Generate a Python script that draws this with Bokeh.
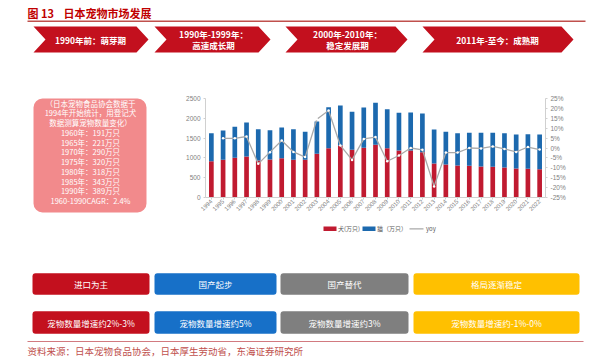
import math
from bokeh.plotting import figure
from bokeh.models import (Range1d, FactorRange, LinearAxis, FixedTicker, PrintfTickFormatter,
                          BoxAnnotation, ColumnDataSource)
from bokeh.layouts import column, row
from bokeh.embed import file_html
from bokeh.resources import INLINE
from bokeh.core.properties import value

CJK = "Noto Sans CJK SC"
NUM = "Liberation Sans"

# ---------------- data ----------------
years = ["1994", "1995", "1996", "1997", "1998", "1999", "2000", "2001", "2002", "2003",
         "2004", "2005", "2006", "2007", "2008", "2009", "2010", "2011", "2012", "2013",
         "2014", "2015", "2016", "2017", "2018", "2019", "2020", "2021", "2022"]
dogs = [917, 951, 1002, 1035, 934, 960, 993, 951, 951, 1103,
        1245, 1313, 1204, 1254, 1330, 1245, 1187, 1187, 1145, 860,
        833, 808, 800, 783, 775, 758, 732, 724, 715]
cats = [707, 741, 783, 859, 791, 740, 775, 774, 707, 816,
        1035, 1010, 960, 1018, 1061, 985, 951, 959, 976, 857,
        825, 816, 833, 850, 858, 866, 859, 876, 876]
yoy = [float("nan"), 4.9, 4.9, 5.8, -8.0, -2.1, 3.8, -2.0, -4.6, 14.5,
       18.9, 1.3, -6.0, 4.6, 5.5, -6.7, -3.8, 0.0, -0.9, -19.4,
       -2.3, -2.3, 0.0, -0.2, 0.8, -0.5, -2.0, 0.5, -0.8]
left_ticks = [0, 500, 1000, 1500, 2000, 2500]
right_ticks = [-25, -20, -15, -10, -5, 0, 5, 10, 15, 20, 25]
series_names = ["犬(万只)", "猫（万只）", "yoy"]

title_no = "图 13"
title_txt = "日本宠物市场发展"
stage_labels = [["1990年前：萌芽期"], ["1990年-1999年：", "高速成长期"],
                ["2000年-2010年：", "稳定发展期"], ["2011年-至今：成熟期"]]
note_lines = ["（日本宠物食品协会数据于", "1994年开始统计，用登记犬", "数据测算宠物数量变化）",
              "1960年：191万只", "1965年：221万只", "1970年：290万只", "1975年：320万只",
              "1980年：318万只", "1985年：343万只", "1990年：389万只", "1960-1990CAGR：2.4%"]
row1_labels = ["进口为主", "国产起步", "国产替代", "格局逐渐稳定"]
row2_labels = ["宠物数量增速约2%-3%", "宠物数量增速约5%", "宠物数量增速约3%", "宠物数量增速约-1%-0%"]
box_colors = ["#C3101E", "#1770C8", "#7F7F7F", "#FFC000"]
source_txt = "资料来源：日本宠物食品协会，日本厚生劳动省，东海证券研究所"

RED = "#C01A30"
BLUE = "#1C69AE"
GREY_LINE = "#A9A9A9"
CHEV = "#C3101E"


def canvas(w, h):
    f = figure(width=w, height=h, x_range=Range1d(0, w), y_range=Range1d(h, 0),
               x_axis_type=None, y_axis_type=None, toolbar_location=None,
               output_backend="svg", min_border=0, outline_line_color=None,
               frame_align=False)
    f.grid.visible = False
    return f


# ---------------- top: title + chevrons (page y 0..88) ----------------
top = canvas(600, 88)
top.text(x=[27], y=[12], text=[title_no], text_font=value(CJK), text_font_size="11px",
         text_font_style="bold", text_color="#C00000", text_baseline="middle", text_align="left")
top.text(x=[63], y=[12], text=[title_txt], text_font=value(CJK), text_font_size="11px",
         text_font_style="bold", text_color="#C00000", text_baseline="middle", text_align="left")
top.line(x=[27, 585], y=[20.7, 20.7], line_color="#C0504D", line_width=1.5)

chev_left = [33, 154, 285, 422]
chev_tip = [148, 270, 407, 573]
chev_cx = [90, 213, 347, 497]
d = 12
ct, cb, cm = 26, 52, 39
xs, ys = [], []
for L, R in zip(chev_left, chev_tip):
    xs.append([L, R - d, R, R - d, L, L + d])
    ys.append([ct, ct, cm, cb, cb, cm])
top.patches(xs, ys, fill_color=CHEV, line_color=None)
for cx, lines in zip(chev_cx, stage_labels):
    if len(lines) == 1:
        top.text(x=[cx], y=[cm], text=lines, text_font=value(CJK), text_font_size="8.5px",
                 text_font_style="bold", text_color="white", text_align="center", text_baseline="middle")
    else:
        top.text(x=[cx, cx], y=[cm - 5.5, cm + 5.5], text=lines, text_font=value(CJK),
                 text_font_size="8.5px", text_font_style="bold", text_color="white",
                 text_align="center", text_baseline="middle")

# ---------------- middle left: note box (page x 0..150, y 88..217) ----------------
MID_H = 129
note = canvas(150, MID_H)
note.add_layout(BoxAnnotation(left=33, right=146, top=10, bottom=124, fill_color="#F28A8C",
                              fill_alpha=1, line_color=None, border_radius=9, level="underlay"))
ny = [14.5 + 9.75 * i for i in range(len(note_lines))]
note.text(x=[90] * len(note_lines), y=ny, text=note_lines, text_font=value(CJK),
          text_font_size="7.5px", text_color="white", text_align="center", text_baseline="middle")

# ---------------- middle right: chart (page x 150..600) ----------------
src = ColumnDataSource(dict(year=years, dog=dogs, cat=cats, yoy=yoy))
p = figure(width=450, height=MID_H, x_range=FactorRange(*years), y_range=Range1d(0, 2500),
           toolbar_location=None, output_backend="svg",
           min_border_left=55, min_border_right=55, min_border_top=10, min_border_bottom=20,
           outline_line_color=None, frame_align=False)
p.extra_y_ranges = {"pct": Range1d(-25, 25)}
rs = p.vbar_stack(["dog", "cat"], x="year", width=0.4, fill_color=[RED, BLUE],
                  line_color=None, source=src)
ln = p.line("year", "yoy", source=src, y_range_name="pct", line_color=GREY_LINE, line_width=1.3)
p.scatter("year", "yoy", source=src, y_range_name="pct", size=2.5, fill_color="white",
          line_color=None)

p.grid.visible = False
p.yaxis.ticker = FixedTicker(ticks=left_ticks)
right = LinearAxis(y_range_name="pct", ticker=FixedTicker(ticks=right_ticks),
                   formatter=PrintfTickFormatter(format="%d%%"))
p.add_layout(right, "right")
for ax in p.yaxis:
    ax.axis_line_color = "#D0D0D0"
    ax.major_tick_line_color = "#D0D0D0"
    ax.major_tick_in = 0
    ax.major_tick_out = 2
    ax.minor_tick_line_color = None
    ax.major_label_text_font = NUM
    ax.major_label_text_font_size = "6.5px"
    ax.major_label_text_color = "#7F7F7F"
    ax.major_label_standoff = 3
xa = p.xaxis[0]
xa.axis_line_color = "#D0D0D0"
xa.major_tick_line_color = "#D0D0D0"
xa.major_tick_in = 0
xa.major_tick_out = 2
xa.major_label_orientation = math.pi / 4
xa.major_label_text_font = NUM
xa.major_label_text_font_size = "6px"
xa.major_label_text_color = "#7F7F7F"
xa.major_label_standoff = 1

# ---------------- bottom: legend, phase boxes, source (page y 217..361) ----------------
TOP_B = 217
bot = canvas(600, 361 - TOP_B)
# legend (key for the chart above)
ly = 228.3 - TOP_B
bot.rect(x=[329.5, 368.5], y=[ly, ly], width=[13, 13], height=[4.5, 4.5],
         fill_color=[RED, BLUE], line_color=None)
bot.line(x=[409, 423], y=[ly, ly], line_color=GREY_LINE, line_width=1.2)
bot.text(x=[337.5, 376.5, 425.5], y=[ly] * 3, text=series_names, text_font=value(CJK),
         text_font_size="6px", text_color="#595959", text_align="left", text_baseline="middle")

bx_l = [32, 154, 280, 413]
bx_r = [149, 276, 408, 579]
for (t0, b0, labels) in [(272.7, 294.3, row1_labels), (310.7, 333.3, row2_labels)]:
    t0 -= TOP_B
    b0 -= TOP_B
    for L, R, c in zip(bx_l, bx_r, box_colors):
        bot.add_layout(BoxAnnotation(left=L, right=R, top=t0, bottom=b0, fill_color=c,
                                     fill_alpha=1, line_color=None, border_radius=3,
                                     level="underlay"))
    bot.text(x=[(L + R) / 2 for L, R in zip(bx_l, bx_r)], y=[(t0 + b0) / 2] * 4, text=labels,
             text_font=value(CJK), text_font_size="8.5px", text_color="white",
             text_align="center", text_baseline="middle")
bot.line(x=[27, 583], y=[341 - TOP_B, 341 - TOP_B], line_color="#D27A80", line_width=1.2)
bot.text(x=[27], y=[350 - TOP_B], text=[source_txt], text_font=value(CJK), text_font_size="9.5px",
         text_color="#C0504D", text_align="left", text_baseline="middle")

layout = column(top, row(note, p, spacing=0), bot, spacing=0)
open("out.html", "w").write(file_html(layout, INLINE))
